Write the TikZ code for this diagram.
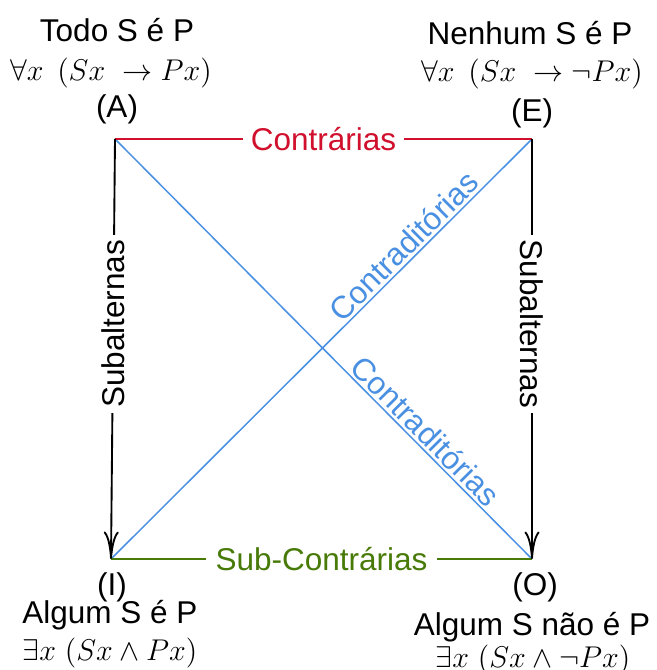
\documentclass[tikz,border=0pt]{standalone}
\usepackage[no-math]{fontspec}
\setmainfont{Liberation Sans}
\usepackage{tikz}
\usetikzlibrary{arrows.meta, positioning}
\definecolor{contrared}{RGB}{208,16,44}
\definecolor{contrablue}{RGB}{74,144,226}
\definecolor{subgreen}{RGB}{72,122,8}
\tikzstyle{vertex} = [font=\fontsize{12.6}{15}\selectfont, inner sep=0pt, anchor=base]
\tikzstyle{relation} = [font=\fontsize{12.6}{15}\selectfont, fill=white, inner sep=3pt]
\tikzstyle{diaglabel} = [font=\fontsize{12.6}{15}\selectfont, text=contrablue, inner sep=1pt, above, sloped, pos=0.72]
\tikzstyle{edge} = [line width=0.6pt]
\tikzstyle{subarrow} = [line width=0.75pt, -{To[length=11pt,width=6pt]}]

\begin{document}
\begin{tikzpicture}[x=0.4pt, y=-0.4pt]
    \useasboundingbox (0,0) rectangle (656,670);
    % corners of the square
    \coordinate (A) at (115,139);
    \coordinate (E) at (532,139);
    \coordinate (I) at (111,559);
    \coordinate (O) at (532,559);

    % propositions
    \node (todo) [vertex] at (117,42) {Todo S é P};
    \node (todoF) [vertex] at (111,81) {$\forall x\ \,(Sx\ \rightarrow Px)$};
    \node (labA) [vertex] at (117,118) {(A)};
    \node (nenhum) [vertex] at (530,45) {Nenhum S é P};
    \node (nenhumF) [vertex] at (532,82) {$\forall x\ \,(Sx\ \rightarrow \neg Px)$};
    \node (labE) [vertex] at (532,122) {(E)};
    \node (labI) [vertex] at (112,595) {(I)};
    \node (algum) [vertex] at (110,623) {Algum S é P};
    \node (algumF) [vertex] at (110,660) {$\exists x\ (Sx \wedge Px)$};
    \node (labO) [vertex] at (535,595) {(O)};
    \node (algumNao) [vertex] at (532,635) {Algum S não é P};
    \node (algumNaoF) [vertex] at (533,667) {$\exists x\ (Sx \wedge \neg Px)$};

    % relations
    \draw [edge, contrablue] (A) -- node[diaglabel] {Contraditórias} (O);
    \draw [edge, contrablue] (I) -- node[diaglabel] {Contraditórias} (E);
    \draw [edge, contrared] (A) -- node[relation, text=contrared, inner xsep=3pt] {Contrárias} (E);
    \draw [edge, subgreen] (I) -- node[relation, text=subgreen, inner xsep=4pt] {Sub-Contrárias} (O);
    \draw [subarrow] (A) -- node[relation, pos=0.44, rotate=90, inner xsep=2pt] {Subalternas} (I);
    \draw [subarrow] (E) -- node[relation, pos=0.44, rotate=-90, inner xsep=2pt] {Subalternas} (O);
\end{tikzpicture}
\end{document}
